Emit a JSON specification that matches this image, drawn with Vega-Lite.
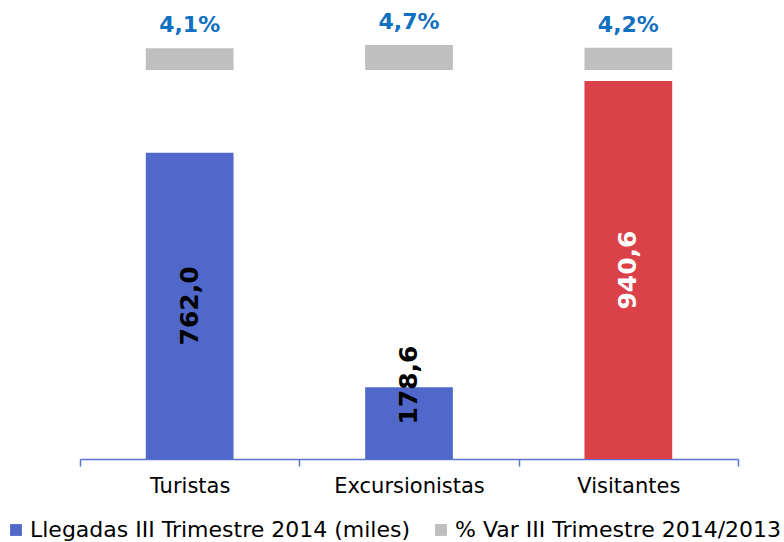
{
  "$schema": "https://vega.github.io/schema/vega-lite/v6.json",
  "width": 658,
  "height": 450,
  "autosize": {"type": "none"},
  "padding": {"left": 80, "top": 9, "right": 46, "bottom": 83},
  "config": {"view": {"stroke": null}, "font": "DejaVu Sans"},
  "data": {
    "values": [
      {"cat": "Turistas", "value": 762.0, "pct": 4.1, "label": "762,0", "pctLabel": "4,1%"},
      {"cat": "Excursionistas", "value": 178.6, "pct": 4.7, "label": "178,6", "pctLabel": "4,7%"},
      {"cat": "Visitantes", "value": 940.6, "pct": 4.2, "label": "940,6", "pctLabel": "4,2%"}
    ]
  },
  "encoding": {
    "x": {
      "field": "cat",
      "type": "nominal",
      "sort": null,
      "scale": {"paddingInner": 0, "paddingOuter": 0},
      "axis": {
        "title": null,
        "labelAngle": 0,
        "labelFontSize": 21,
        "labelColor": "#000000",
        "labelPadding": 9,
        "domainColor": "#5B73D1",
        "domainWidth": 1.5,
        "tickColor": "#5B73D1",
        "tickWidth": 1.5,
        "tickSize": 7,
        "tickBand": "extent",
        "grid": false
      }
    }
  },
  "layer": [
    {
      "layer": [
        {
          "mark": {"type": "bar", "width": {"band": 0.4}},
          "encoding": {
            "y": {"field": "value", "type": "quantitative", "scale": {"domain": [0, 1120], "nice": false}, "axis": null},
            "color": {
              "condition": {"test": "datum.cat === 'Visitantes'", "value": "#DB4148"},
              "datum": "Llegadas III Trimestre 2014 (miles)",
              "type": "nominal",
              "scale": {
                "domain": ["Llegadas III Trimestre 2014 (miles)", "% Var III Trimestre 2014/2013"],
                "range": ["#5068C9", "#BFBFBF"]
              },
              "legend": {
                "title": null,
                "orient": "none",
                "direction": "horizontal",
                "legendX": -75,
                "legendY": 510,
                "symbolType": "square",
                "symbolSize": 140,
                "symbolStrokeWidth": 0,
                "labelFontSize": 22,
                "labelColor": "#000000",
                "labelOffset": 3,
                "columnPadding": 19,
                "labelLimit": 500
              }
            }
          }
        },
        {
          "transform": [
            {"calculate": "datum.value < 300 ? 184 : datum.value / 2", "as": "mid"}
          ],
          "mark": {"type": "text", "angle": 270, "align": "center", "baseline": "middle", "fontSize": 25, "fontWeight": "bold"},
          "encoding": {
            "y": {"field": "mid", "type": "quantitative"},
            "text": {"field": "label"},
            "color": {
              "condition": {"test": "datum.cat === 'Visitantes'", "value": "#FFFFFF"},
              "value": "#000000"
            }
          }
        }
      ]
    },
    {
      "layer": [
        {
          "mark": {"type": "bar", "width": {"band": 0.4}},
          "encoding": {
            "y": {"field": "pct", "type": "quantitative", "scale": {"domain": [-73.4, 11.5], "nice": false, "zero": false}, "axis": null},
            "y2": {"datum": 0},
            "color": {"datum": "% Var III Trimestre 2014/2013", "type": "nominal"}
          }
        },
        {
          "mark": {"type": "text", "align": "center", "baseline": "alphabetic", "dy": -16, "fontSize": 22, "fontWeight": "bold", "color": "#1170C0"},
          "encoding": {
            "y": {"field": "pct", "type": "quantitative"},
            "text": {"field": "pctLabel"}
          }
        }
      ]
    }
  ],
  "resolve": {"scale": {"y": "independent"}}
}
